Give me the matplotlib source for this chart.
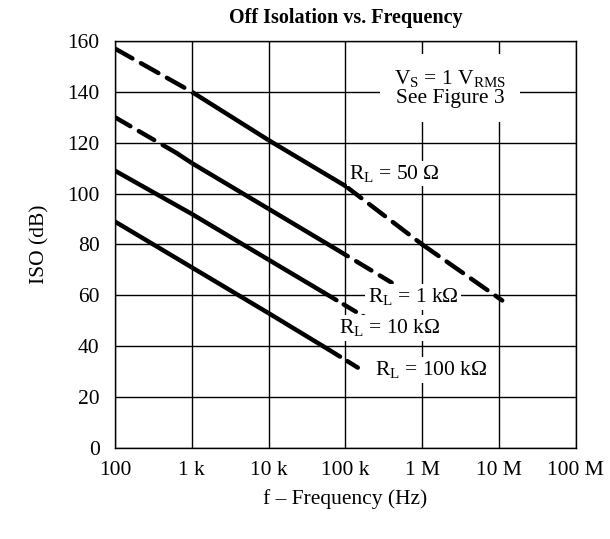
import numpy as np
import matplotlib.pyplot as plt

plt.rcParams['font.family'] = ['Liberation Serif', 'DejaVu Serif']
plt.rcParams['mathtext.fontset'] = 'custom'
plt.rcParams['mathtext.rm'] = 'Liberation Serif'
plt.rcParams['mathtext.it'] = 'Liberation Serif:italic'

# curve data: frequency (Hz), isolation (dB), and style of each segment
f_50 = [100, 1e3, 1e4, 1e5, 1e6, 1.1e7]
iso_50 = [157, 140, 121, 103, 80, 58]
sty_50 = ['d', 's', 's', 'd', 'd']

f_1k = [100, 630, 1e3, 1e4, 6.8e4, 4e5]
iso_1k = [130, 116, 112, 94, 79, 65]
sty_1k = ['d', 's', 's', 's', 'd']

f_10k = [100, 1e3, 1e4, 5.3e4, 1.9e5]
iso_10k = [109, 92, 74, 61, 51]
sty_10k = ['s', 's', 's', 'd']

f_100k = [100, 1e3, 1e4, 6.2e4, 1.66e5]
iso_100k = [89, 71, 53, 38.5, 30.5]
sty_100k = ['s', 's', 's', 'd']

xticks = [1e2, 1e3, 1e4, 1e5, 1e6, 1e7, 1e8]
xticklabels = ['100', '1 k', '10 k', '100 k', '1 M', '10 M', '100 M']
yticks = [0, 20, 40, 60, 80, 100, 120, 140, 160]

FS = 15.5

fig = plt.figure(figsize=(6.1, 5.39), dpi=100)
ax = fig.add_axes([0.1885, 0.1688, 0.7555, 0.7552])


def draw(f, iso, sty, dashes):
    for i, s in enumerate(sty):
        seg = ax.plot(f[i:i + 2], iso[i:i + 2], color='black', lw=3.2,
                      solid_capstyle='butt', dash_capstyle='round', zorder=3)[0]
        if s == 'd':
            seg.set_dashes(dashes)


draw(f_50, iso_50, sty_50, (4.5, 2.2))
draw(f_1k, iso_1k, sty_1k, (4.0, 2.2))
draw(f_10k, iso_10k, sty_10k, (3.2, 1.9))
draw(f_100k, iso_100k, sty_100k, (2.8, 1.9))

ax.set_xscale('log')
ax.set_xlim(100, 1e8)
ax.set_ylim(0, 160)
ax.set_xticks(xticks)
ax.set_xticklabels(xticklabels)
ax.xaxis.set_minor_locator(plt.NullLocator())
ax.set_yticks(yticks)
ax.tick_params(length=0, labelsize=FS)
ax.tick_params(axis='x', pad=9)
ax.tick_params(axis='y', pad=11)
ax.grid(True, color='black', lw=1.0)
ax.set_axisbelow(True)
for sp in ax.spines.values():
    sp.set_linewidth(1.0)

ax.set_title('Off Isolation vs. Frequency', fontsize=14.5, fontweight='bold', pad=13)
ax.set_ylabel('ISO (dB)', fontsize=FS, labelpad=13)
ax.set_xlabel('f – Frequency (Hz)', fontsize=FS, labelpad=7)

box = dict(facecolor='white', edgecolor='none', pad=1.5)
ax.text(2.3e6, 141.5, r'V$_\mathrm{S}$ = 1 V$_\mathrm{RMS}$' + '\nSee Figure 3',
        ha='center', va='center', fontsize=FS, linespacing=0.95,
        bbox=dict(facecolor='white', edgecolor='none', pad=10), zorder=4)
ax.text(1.12e5, 108, r'R$_\mathrm{L}$ = 50 Ω', ha='left', va='center', fontsize=FS, bbox=box, zorder=4)
ax.text(1.94e5, 59.4, r'R$_\mathrm{L}$ = 1 kΩ', ha='left', va='center', fontsize=FS, bbox=box, zorder=4)
ax.text(8.3e4, 47.2, r'R$_\mathrm{L}$ = 10 kΩ', ha='left', va='center', fontsize=FS, bbox=box, zorder=4)
ax.text(2.45e5, 30.7, r'R$_\mathrm{L}$ = 100 kΩ', ha='left', va='center', fontsize=FS, bbox=box, zorder=4)

fig.savefig('out.png', dpi=100)
